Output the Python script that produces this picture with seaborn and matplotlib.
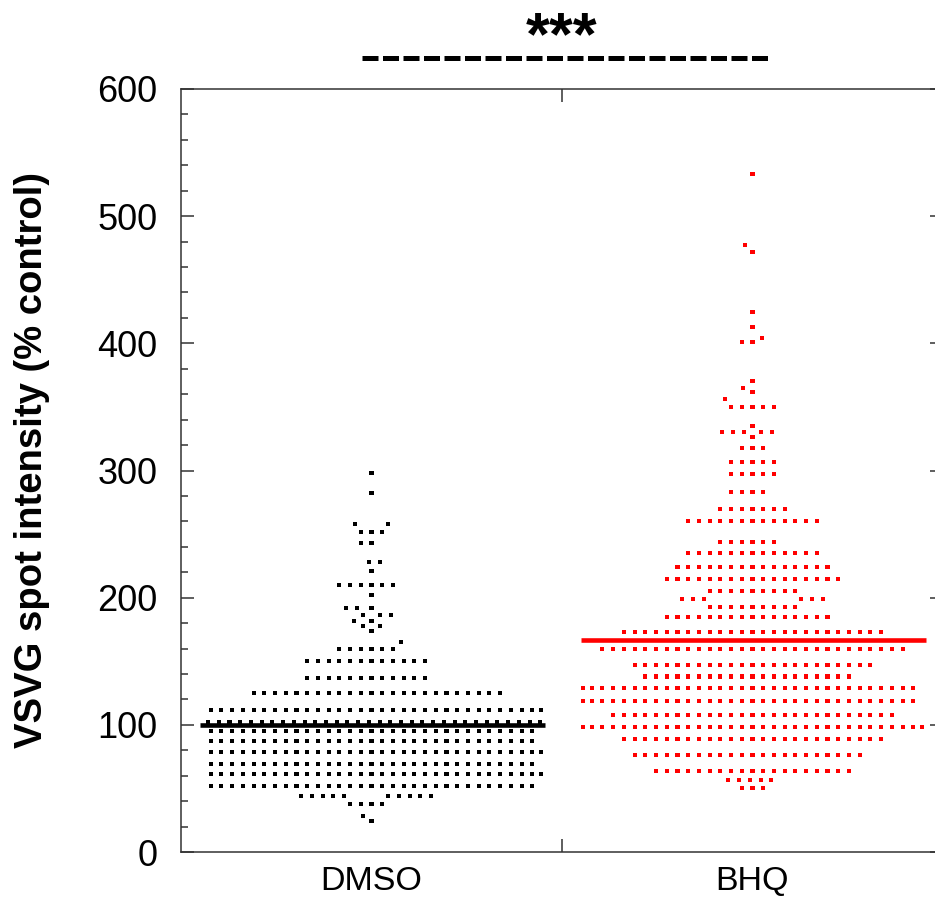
import matplotlib
matplotlib.use("Agg")
import matplotlib.pyplot as plt
from matplotlib.ticker import MultipleLocator
import numpy as np
import pandas as pd
import seaborn as sns

# groups, colours and the value of the horizontal line per group
groups = ["DMSO", "BHQ"]
group_colors = ["black", "red"]
group_means = [100, 167]

# dot rows: row value (% control) and number of dots in it
dmso_levels = [24, 28, 38, 44, 52, 61, 69, 79, 87, 95, 102, 112, 125, 137, 150,
               160, 165, 174, 178, 182, 186, 192, 202, 210, 221, 228, 243, 252,
               258, 282, 298]
dmso_counts = [1, 1, 4, 10, 31, 32, 31, 32, 31, 31, 32, 32, 24, 12, 12,
               6, 1, 1, 2, 2, 3, 3, 1, 6, 1, 2, 2, 3,
               2, 1, 1]

bhq_levels = [50, 57, 64, 76, 89, 98, 108, 119, 129, 138, 147, 160, 173, 185,
              193, 199, 205, 215, 224, 235, 244, 260, 270, 283, 297, 307, 318,
              326, 330, 335, 350, 356, 362, 365, 370, 401, 404, 413, 425, 472,
              477, 533]
bhq_counts = [3, 5, 19, 22, 25, 33, 27, 32, 32, 20, 23, 29, 25, 16,
              9, 6, 9, 17, 15, 13, 6, 13, 7, 4, 5, 5, 3,
              1, 5, 1, 5, 1, 1, 1, 1, 2, 1, 1, 1, 1,
              1, 1]

sns.set_style("ticks")
plt.rcParams["font.family"] = ["Liberation Sans", "DejaVu Sans"]
plt.rcParams["text.color"] = "black"

df = pd.DataFrame({
    "group": ["DMSO"] * sum(dmso_counts) + ["BHQ"] * sum(bhq_counts),
    "value": np.concatenate([np.repeat(dmso_levels, dmso_counts),
                             np.repeat(bhq_levels, bhq_counts)]),
})

fig = plt.figure(figsize=(9.35, 8.99), dpi=100)
ax = fig.add_axes([181 / 935, 47 / 899, 762 / 935, 763 / 899])

# swarm layout from seaborn (edge width only used as spacing)
sns.swarmplot(data=df, x="group", y="value", hue="group", order=groups,
              hue_order=groups, palette=dict(zip(groups, group_colors)),
              marker="s", size=2.9, linewidth=3.72, edgecolor="none",
              legend=False, ax=ax)
ax.set_xlim(-0.5, 1.5)
ax.set_ylim(0, 600)
fig.canvas.draw()

# widen the swarms a bit so the rows fill the column like the original
stretch = 1.11
for coll in list(ax.collections):
    xy = np.asarray(coll.get_offsets())
    cols = coll.get_facecolors()
    center = np.round(np.median(xy[:, 0]))
    coll.remove()
    ax.scatter(center + (xy[:, 0] - center) * stretch, xy[:, 1], marker="s",
               s=2.9 ** 2, c=cols, linewidths=0, zorder=2)

# group lines
for i, (m, c) in enumerate(zip(group_means, group_colors)):
    ax.plot([i - 0.45, i + 0.455], [m, m], color=c, lw=3.3, zorder=3,
            solid_capstyle="butt")

# axes styling
for sp in ax.spines.values():
    sp.set_visible(True)
    sp.set_linewidth(1.1)
    sp.set_color("#333333")

ax.set_xticks([0, 1], groups)
ax.tick_params(axis="x", which="major", length=0, pad=10, labelsize=24.5,
               labelcolor="black")
ax.set_xticks([0.5], minor=True)
ax.tick_params(axis="x", which="minor", direction="in", length=9.4, width=1.1,
               top=True, bottom=True, color="#333333")

ax.yaxis.set_major_locator(MultipleLocator(100))
ax.yaxis.set_minor_locator(MultipleLocator(20))
ax.tick_params(axis="y", which="both", direction="in", left=True, right=True,
               width=1.1, color="#333333")
ax.tick_params(axis="y", which="major", length=9.4, labelsize=26, pad=17,
               labelcolor="black")
ax.tick_params(axis="y", which="minor", length=5)

ax.set_xlabel("")
ax.set_ylabel("VSVG spot intensity (% control)", fontsize=27.5,
              fontweight="bold", color="black")
ax.yaxis.set_label_coords(-0.172, 0.514)

# significance bar
ax.plot([-0.025, 1.05], [624, 624], color="black", lw=3.6,
        linestyle=(0, (3.2, 0.9)), clip_on=False)
ax.text(0.5, 627.5, "***", ha="center", va="baseline", fontsize=44,
        fontweight="bold", color="black", clip_on=False)

fig.savefig("out.png", dpi=100)
